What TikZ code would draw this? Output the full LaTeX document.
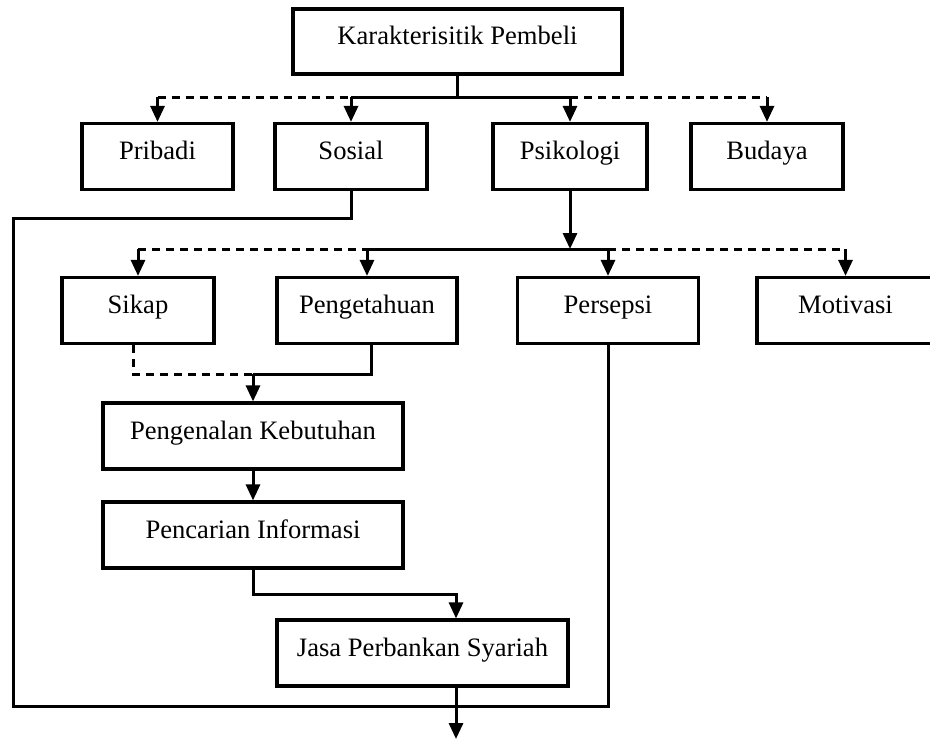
\documentclass[tikz,border=0pt]{standalone}
\usepackage{fontspec}
\setmainfont{Liberation Serif}
\usetikzlibrary{arrows.meta}

\begin{document}
\begin{tikzpicture}[x=0.5pt,y=-0.5pt,line width=1.5pt,>={Triangle[length=8pt,width=7pt]},
    kotak/.style={draw,rectangle,line width=1.6pt,inner sep=0pt,minimum height=33pt,text height=9pt,text depth=6pt,font=\fontsize{13.3}{15}\selectfont},
    putus/.style={dash pattern=on 4pt off 3pt}]
            \useasboundingbox (0,0) rectangle (930,740);

            \node[kotak] (atas) at (457.5,41.5) [minimum width=164.5pt, minimum height=32.5pt]{Karakterisitik Pembeli};

            \node[kotak] (pribadi) at (157.5,156.5) [minimum width=75.5pt]{Pribadi};
            \node[kotak] (sosial) at (351,156.5) [minimum width=76pt]{Sosial};
            \node[kotak] (psikologi) at (570,156.5) [minimum width=77pt]{Psikologi};
            \node[kotak] (budaya) at (767,156.5) [minimum width=76pt]{Budaya};

            \node[kotak] (sikap) at (138,310.5) [minimum width=76pt]{Sikap};
            \node[kotak] (pengetahuan) at (367,310.5) [minimum width=90pt]{Pengetahuan};
            \node[kotak] (persepsi) at (608,310.5) [minimum width=90.5pt]{Persepsi};
            \node[kotak] (motivasi) at (845.5,310.5) [minimum width=88.5pt]{Motivasi};

            \node[kotak] (pengenalan) at (253,436) [minimum width=150pt]{Pengenalan Kebutuhan};
            \node[kotak] (pencarian) at (253,535) [minimum width=150pt]{Pencarian Informasi};
            \node[kotak] (jasa) at (422.5,653) [minimum width=145.5pt]{Jasa Perbankan Syariah};

            % cabang pertama
            \coordinate (bus1) at (457.5,97);
            \draw (atas.south) -- (bus1);
            \draw[putus] (pribadi.north |- bus1) -- (sosial.north |- bus1);
            \draw (sosial.north |- bus1) -- (psikologi.north |- bus1);
            \draw[putus] (psikologi.north |- bus1) -- (budaya.north |- bus1);
            \foreach \n in {pribadi,sosial,psikologi,budaya}
                \draw[->] (\n.north |- bus1) -- (\n.north);

            % cabang kedua
            \coordinate (bus2) at (570,249);
            \draw[->] (psikologi.south) -- (bus2);
            \draw[putus] (sikap.north |- bus2) -- (pengetahuan.north |- bus2);
            \draw (pengetahuan.north |- bus2) -- (persepsi.north |- bus2);
            \draw[putus] (persepsi.north |- bus2) -- (motivasi.north |- bus2);
            \foreach \n in {sikap,pengetahuan,persepsi,motivasi}
                \draw[->] (\n.north |- bus2) -- (\n.north);

            % gabungan
            \coordinate (gabung) at (253,374);
            \draw[putus] ([xshift=-2.5pt]sikap.south) |- (gabung);
            \draw ([xshift=2pt]pengetahuan.south) |- (gabung);
            \draw[->] (gabung) -- (pengenalan.north);
            \draw[->] (pengenalan.south) -- (pencarian.north);

            \coordinate (masuk) at (456,594);
            \coordinate (keluar) at (456,739);
            \draw[->] (pencarian.south) |- (masuk) -- (jasa.north -| masuk);
            \draw[->] (jasa.south -| masuk) -- (keluar);

            % garis luar
            \coordinate (kiri) at (13,218);
            \coordinate (bawah) at (13,706);
            \draw (sosial.south) |- (kiri) -- (bawah) -| (persepsi.south);
        \end{tikzpicture}
\end{document}
